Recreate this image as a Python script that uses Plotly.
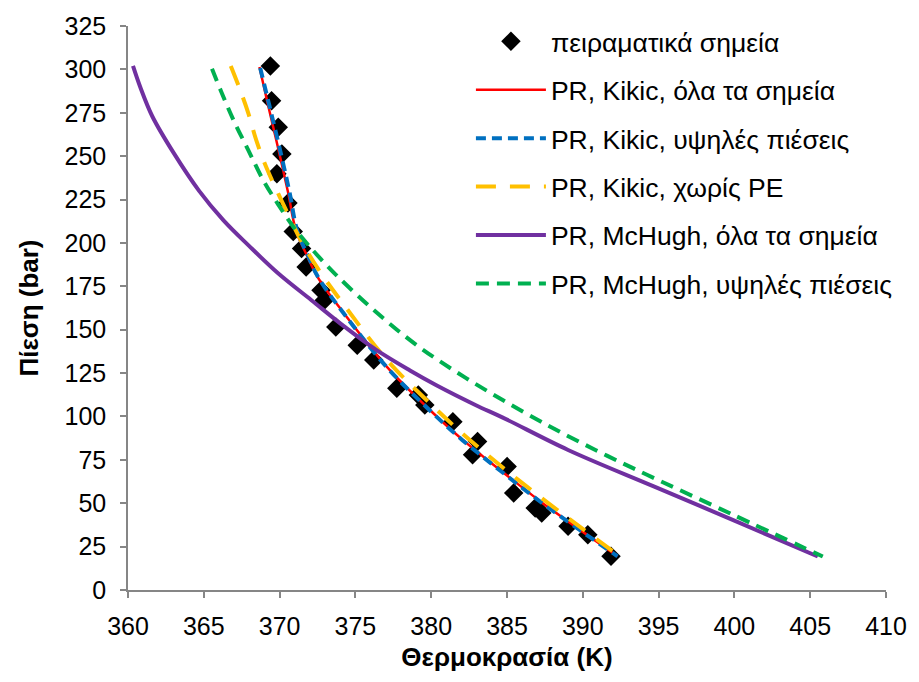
import plotly.graph_objects as go

# Experimental bubble-point data: temperature (K) and pressure (bar)
exp_T = [369.39, 369.47, 369.91, 370.15, 369.82, 370.55, 370.90, 371.45, 371.75,
         372.73, 372.95, 373.71, 375.12, 376.21, 377.73, 379.15, 379.58, 381.43,
         383.06, 382.73, 385.01, 385.44, 386.86, 387.29, 389.03, 390.33, 391.86]
exp_P = [302.0, 281.9, 266.6, 251.3, 239.8, 223.0, 206.6, 196.8, 186.1,
         172.7, 167.0, 151.6, 141.1, 132.5, 116.2, 112.4, 106.6, 97.0,
         85.5, 77.9, 71.1, 55.9, 47.2, 44.4, 36.7, 31.9, 19.4]

# PR, Kikic, all points
kik_all_T = [368.67, 369.25, 369.91, 370.56, 371.08, 371.80, 372.52, 374.26, 377.08,
             379.69, 382.08, 384.58, 387.18, 389.79, 392.29]
kik_all_P = [301.4, 279.0, 254.3, 229.0, 207.2, 192.8, 180.2, 159.3, 128.6,
             105.6, 86.5, 68.9, 51.2, 34.8, 19.4]

# PR, Kikic, high pressures
kik_hp_T = [368.72, 369.33, 370.01, 370.66, 371.16, 371.86, 372.56, 374.26, 377.08,
            379.69, 382.08, 384.58, 387.18, 389.79, 392.29]
kik_hp_P = [300.8, 279.0, 254.3, 229.0, 207.2, 192.8, 180.0, 159.0, 128.3,
            105.3, 86.2, 68.6, 51.0, 34.6, 19.4]

# PR, Kikic, without PE
kik_npe_T = [366.78, 367.37, 367.95, 368.47, 369.13, 369.91, 370.69, 371.41, 372.52,
             374.26, 377.08, 379.69, 382.08, 384.58, 387.18, 389.79, 392.29]
kik_npe_P = [302.0, 288.8, 274.4, 258.9, 243.4, 228.4, 214.1, 201.4, 185.3,
             164.1, 132.5, 109.5, 90.0, 71.6, 53.7, 36.5, 20.4]

# PR, McHugh, all points
mch_all_T = [360.33, 360.80, 361.60, 363.00, 364.69, 366.30, 367.95, 369.90,
             372.10, 374.30, 376.40, 378.60, 380.34, 382.95, 384.69, 389.03, 394.68,
             400.00, 405.50]
mch_all_P = [302.0, 290.0, 273.0, 252.0, 230.0, 213.0, 198.6, 182.5,
             167.0, 151.6, 138.2, 126.5, 118.0, 106.5, 99.5, 80.7, 59.7,
             40.0, 19.3]

# PR, McHugh, high pressures
mch_hp_T = [365.54, 366.13, 366.98, 367.95, 368.93, 369.91, 370.89, 371.86, 373.62,
            376.23, 379.04, 382.30, 386.21, 389.01, 391.62, 394.23, 399.90, 405.83]
mch_hp_P = [300.3, 287.6, 270.4, 253.2, 236.0, 222.1, 209.5, 199.1, 182.5,
            161.2, 141.1, 122.1, 102.0, 88.8, 77.3, 66.4, 43.4, 19.3]

x_ticks = list(range(360, 411, 5))
y_ticks = list(range(0, 326, 25))

FONT = "Liberation Sans, Arial, sans-serif"
AXIS_GREY = "#868686"
FS = 25
LEG_FS = 26.5
TITLE_FS = 26

fig = go.Figure()

fig.add_trace(go.Scatter(
    x=exp_T, y=exp_P, mode="markers", name="πειραματικά σημεία",
    legendgroup="g0",
    marker=dict(symbol="diamond", size=15, color="black"),
))

curves = [
    (kik_all_T, kik_all_P, "PR, Kikic, όλα τα σημεία", "#FF0000", 2.5, "solid"),
    (kik_hp_T, kik_hp_P, "PR, Kikic, υψηλές πιέσεις", "#0070C0", 4, "10px,6px"),
    (kik_npe_T, kik_npe_P, "PR, Kikic, χωρίς PE", "#FFC000", 4, "20px,14px"),
    (mch_all_T, mch_all_P, "PR, McHugh, όλα τα σημεία", "#7030A0", 4, "solid"),
    (mch_hp_T, mch_hp_P, "PR, McHugh, υψηλές πιέσεις", "#00B050", 4, "13px,8px"),
]
for i, (tx, py, name, color, width, dash) in enumerate(curves, start=1):
    fig.add_trace(go.Scatter(
        x=tx, y=py, mode="lines", name=name, legendgroup=f"g{i}",
        line=dict(color=color, width=width, dash=dash, shape="spline", smoothing=1.0),
    ))

fig.update_layout(
    width=919, height=682,
    margin=dict(l=128, r=24, t=25, b=92),
    paper_bgcolor="white", plot_bgcolor="white",
    font=dict(family=FONT, size=FS, color="black"),
    showlegend=True,
    legend=dict(
        x=0.4524, y=1.015, xanchor="left", yanchor="top",
        bgcolor="rgba(255,255,255,0)",
        font=dict(family=FONT, size=LEG_FS, color="black"),
        tracegroupgap=11, itemwidth=70,
    ),
    xaxis=dict(
        range=[360, 410], tickmode="array", tickvals=x_ticks,
        ticktext=[str(v) for v in x_ticks],
        showgrid=False, zeroline=False, showline=True, linecolor=AXIS_GREY, linewidth=1.5,
        ticks="outside", ticklen=6, tickcolor=AXIS_GREY, tickwidth=1.5,
        ticklabelstandoff=7,
        tickfont=dict(family=FONT, size=FS, color="black"),
        title=dict(text="<b>Θερμοκρασία (K)</b>", font=dict(family=FONT, size=TITLE_FS), standoff=9),
    ),
    yaxis=dict(
        range=[0, 325], tickmode="array", tickvals=y_ticks,
        ticktext=[str(v) for v in y_ticks],
        showgrid=False, zeroline=False, showline=True, linecolor=AXIS_GREY, linewidth=1.5,
        ticks="outside", ticklen=6, tickcolor=AXIS_GREY, tickwidth=1.5,
        ticklabelstandoff=9,
        tickfont=dict(family=FONT, size=FS, color="black"),
        title=dict(text="<b>Πίεση (bar)</b>", font=dict(family=FONT, size=TITLE_FS), standoff=18),
    ),
)

fig.write_html("out.html")
